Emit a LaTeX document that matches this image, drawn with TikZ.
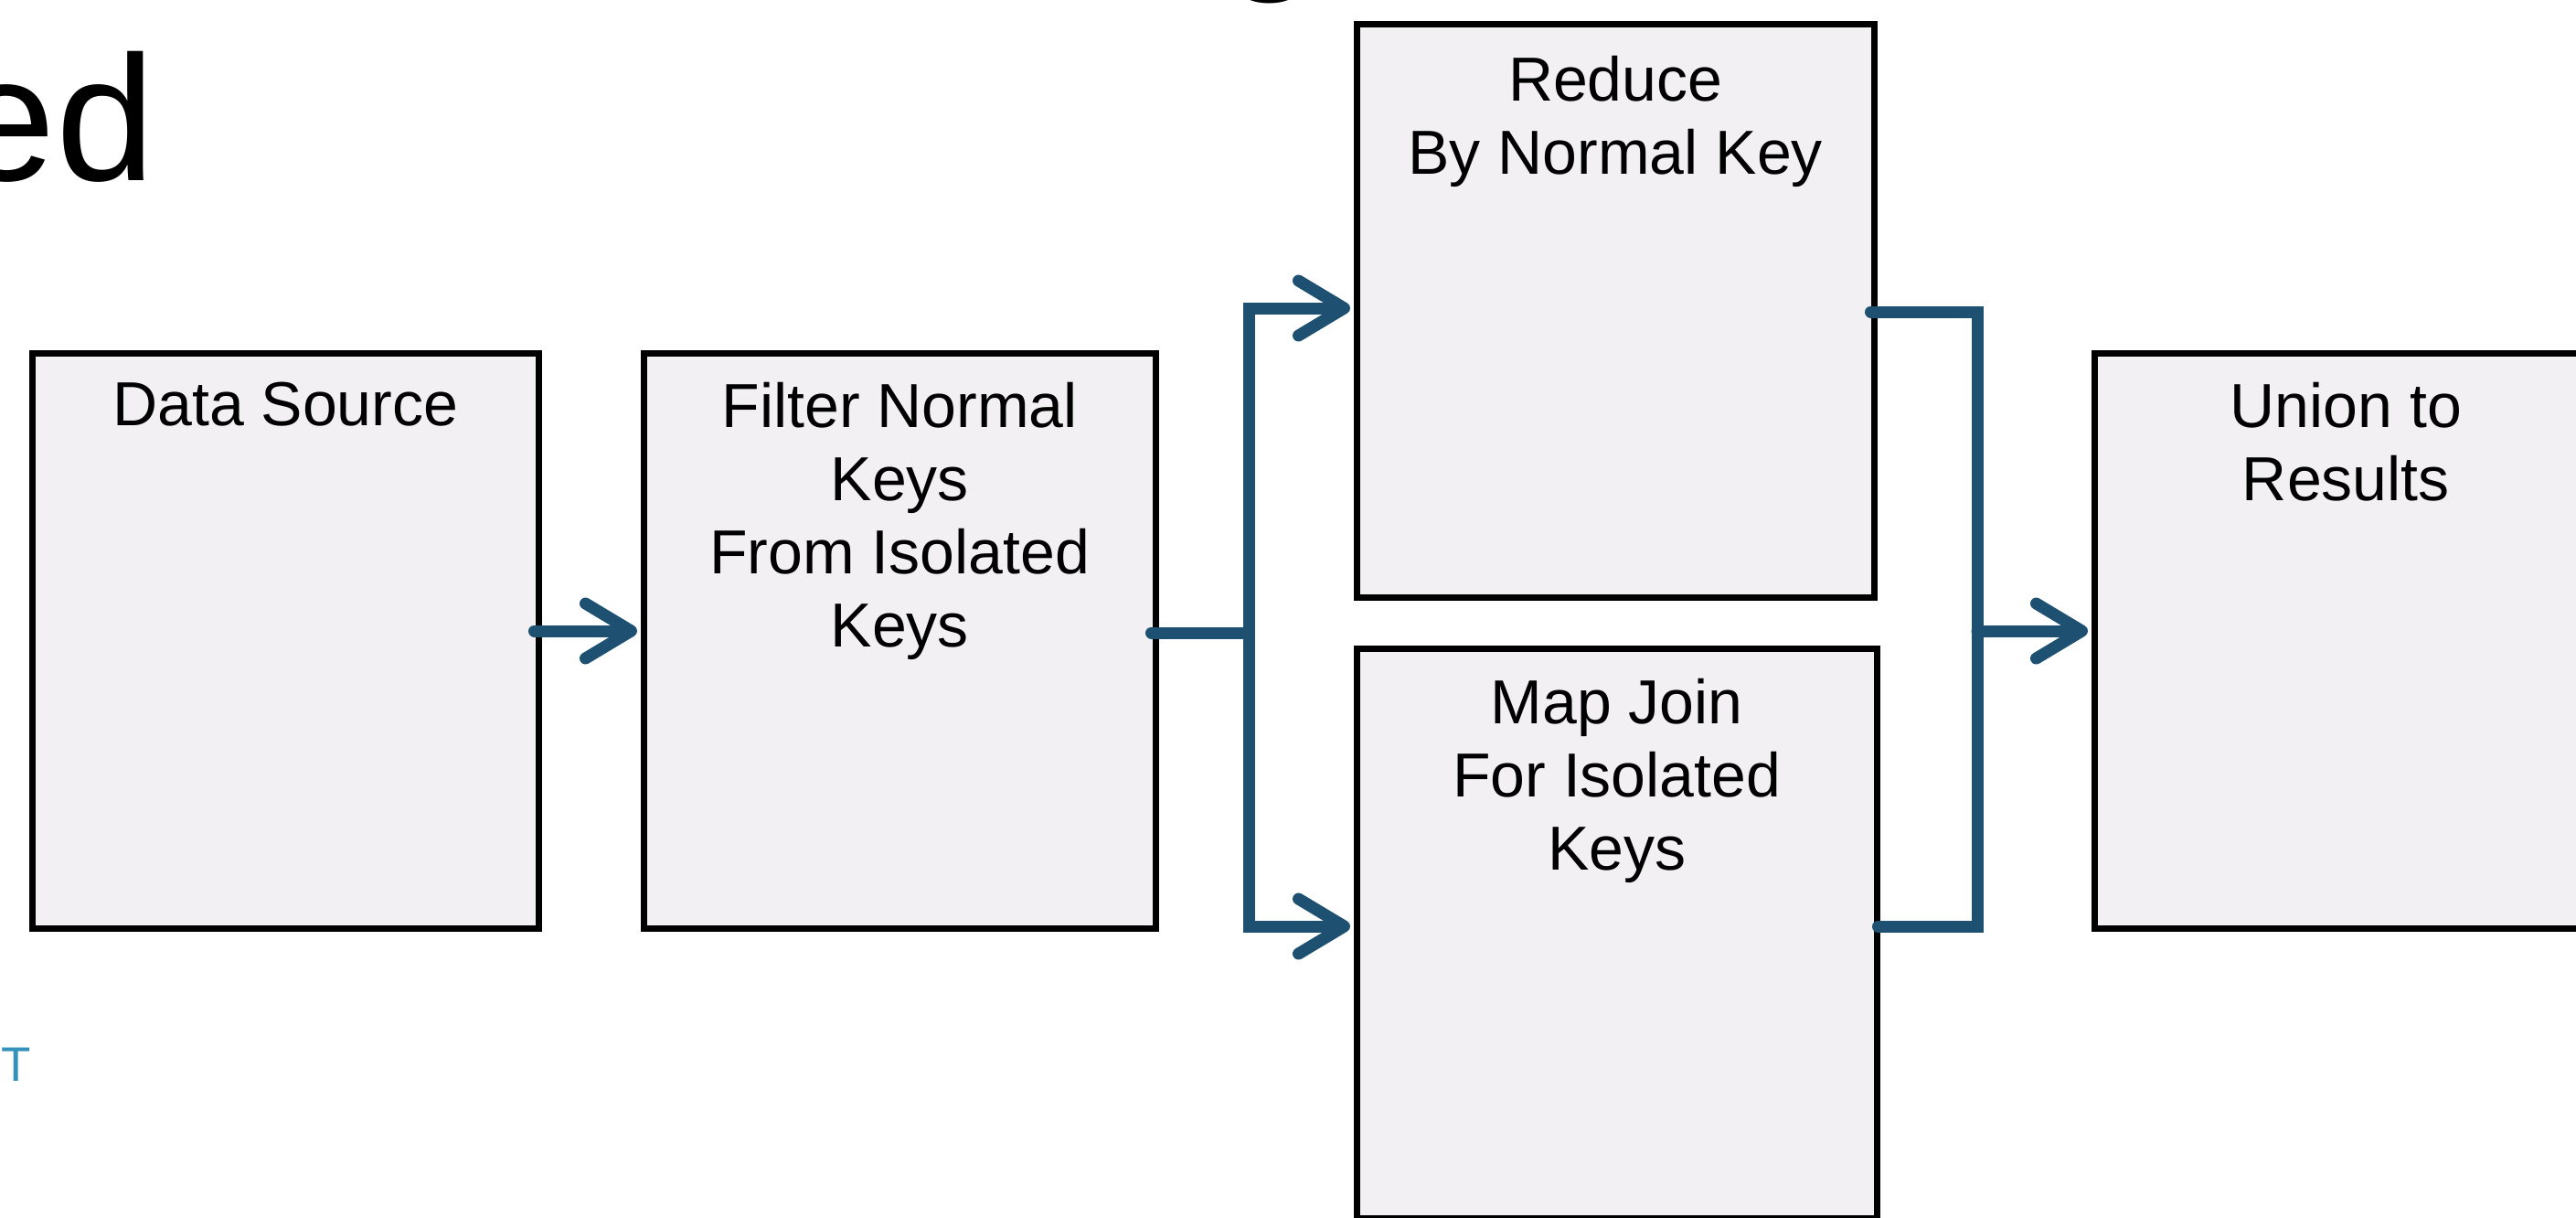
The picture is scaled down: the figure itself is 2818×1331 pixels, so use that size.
\documentclass[tikz,border=0pt]{standalone}
\usepackage{fontspec}
\setmainfont{Liberation Sans}
\usetikzlibrary{arrows.meta,calc}
\definecolor{arrowc}{RGB}{30,80,113}
\definecolor{boxfill}{RGB}{242,240,243}
\definecolor{tealT}{RGB}{52,146,186}
\begin{document}
\begin{tikzpicture}[x=1pt,y=-1pt,
  box/.style={draw=black, line width=6.5pt, fill=boxfill, inner sep=0pt, anchor=north west},
  lbl/.style={font=\fontsize{68}{80}\selectfont, align=center, inner sep=0pt, anchor=north},
  flow/.style={draw=arrowc, line width=13pt, line cap=round, line join=miter},
  arr/.style={flow, shorten >=4pt, -{Straight Barb[length=50pt,width=60pt,round]}},
  title/.style={font=\fontsize{195}{234}\selectfont, inner sep=0pt}]
\fill[white] (0,0) rectangle (2818,1331);
\useasboundingbox (0,0) rectangle (2818,1331);

% title fragments
\node[title, anchor=base east] (ttl) at (170,197) {ed};
\node[title, anchor=base west] (ttlg) at (1336,-37) {g};
\node[font=\fontsize{53}{60}\selectfont, text=tealT, inner sep=0pt, anchor=base west] (foot) at (1,1182) {T};

% boxes
\node[box, minimum width=554pt, minimum height=629pt] (ds)  at (32,383) {};
\node[box, minimum width=560pt, minimum height=629pt] (flt) at (701,383) {};
\node[box, minimum width=566pt, minimum height=627pt] (red) at (1481,23) {};
\node[box, minimum width=569pt, minimum height=623pt] (mj)  at (1481,706) {};
\node[box, minimum width=550pt, minimum height=629pt] (uni) at (2288,383) {};

% labels
\node[lbl] (tds)  at ($(ds.north)+(0,35)$)  {Data Source};
\node[lbl] (tflt) at ($(flt.north)+(0,35)$) {Filter Normal\\Keys\\From Isolated\\Keys};
\node[lbl] (tred) at ($(red.north)+(0,38)$) {Reduce\\By Normal Key};
\node[lbl] (tmj)  at ($(mj.north)+(0,36)$)  {Map Join\\For Isolated\\Keys};
\node[lbl] (tuni) at ($(uni.north)+(0,35)$) {Union to\\Results};

% connector levels
\coordinate (yA) at (0,690);
\coordinate (yB) at (0,692);
\coordinate (yU) at (0,337);
\coordinate (yU2) at (0,341);
\coordinate (yL) at (0,1013);
\coordinate (jL) at (1366,692);
\coordinate (jR) at (2163,690);

\draw[arr] ($(ds.east |- yA)+(-8,0)$) -- (flt.west |- yA);
\draw[flow] ($(flt.east |- yB)+(-8,0)$) -- (jL);
\draw[arr] (jL) -- (jL |- yU) -- (red.west |- yU);
\draw[arr] (jL) -- (jL |- yL) -- (mj.west |- yL);
\draw[flow] ($(red.east |- yU2)+(-7,0)$) -- (jR |- yU2) -- (jR |- yL) -- ($(mj.east |- yL)+(-2,0)$);
\draw[arr] (jR) -- (uni.west |- jR);
\end{tikzpicture}
\end{document}
